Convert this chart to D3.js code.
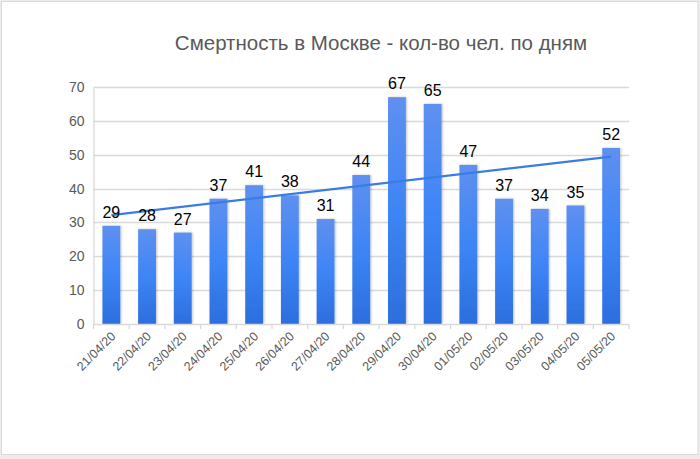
<!DOCTYPE html>
<html><head><meta charset="utf-8">
<script src="https://cdn.jsdelivr.net/npm/d3@7"></script>
<style>
html,body{margin:0;padding:0;background:#ececec;}
svg{display:block;font-family:"Liberation Sans",Arial,sans-serif;}
</style></head>
<body>
<script>
const categories = ["21/04/20","22/04/20","23/04/20","24/04/20","25/04/20","26/04/20","27/04/20","28/04/20","29/04/20","30/04/20","01/05/20","02/05/20","03/05/20","04/05/20","05/05/20"];
const deaths = [29,28,27,37,41,38,31,44,67,65,47,37,34,35,52];
const yTicks = [0,10,20,30,40,50,60,70];
const title = "Смертность в Москве - кол-во чел. по дням";

const W = 700, H = 459;
const m = {left: 93.5, right: 71, top: 87, bottom: 135};
const svg = d3.select("body").append("svg").attr("width", W).attr("height", H);

svg.append("rect").attr("x",1.5).attr("y",1.5).attr("width",696.5).attr("height",453)
  .attr("fill","#fff").attr("stroke","#d9d9d9");

const defs = svg.append("defs");
const g1 = defs.append("linearGradient").attr("id","bg").attr("x1",0).attr("y1",0).attr("x2",0).attr("y2",1);
g1.append("stop").attr("offset","0%").attr("stop-color","#5f90ef");
g1.append("stop").attr("offset","50%").attr("stop-color","#3d85f6");
g1.append("stop").attr("offset","100%").attr("stop-color","#2c6ede");
const f = defs.append("filter").attr("id","sh").attr("x","-30%").attr("y","-10%").attr("width","160%").attr("height","120%");
f.append("feDropShadow").attr("dx",1).attr("dy",0).attr("stdDeviation",1).attr("flood-color","#000").attr("flood-opacity",0.25);

const x = d3.scaleBand().domain(categories).range([m.left, W - m.right]).paddingInner(0.5).paddingOuter(0.25);
const y = d3.scaleLinear().domain([0,70]).range([H - m.bottom, m.top]);
const y0 = y(0);

// gridlines
svg.append("g").selectAll("line").data(yTicks.filter(d=>d>0)).join("line")
  .attr("x1", m.left).attr("x2", W - m.right)
  .attr("y1", d=>Math.round(y(d))+0.5).attr("y2", d=>Math.round(y(d))+0.5)
  .attr("stroke","#d9d9d9").attr("stroke-width",1.3);

// y axis
const ya = svg.append("g").attr("transform",`translate(${m.left},0)`)
  .call(d3.axisLeft(y).tickValues(yTicks).tickSize(0).tickPadding(9));
ya.select(".domain").attr("stroke","#d9d9d9").attr("stroke-width",1.3);
ya.selectAll("text").attr("font-size",14).attr("fill","#595959").attr("font-family","Liberation Sans, Arial, sans-serif");

// bars
svg.append("g").selectAll("rect").data(deaths).join("rect")
  .attr("x",(d,i)=>x(categories[i])).attr("width",x.bandwidth())
  .attr("y",d=>y(d)).attr("height",d=>y0 - y(d))
  .attr("fill","url(#bg)").attr("filter","url(#sh)");

// x axis
const bounds = d3.range(categories.length+1).map(i => m.left + i*(W - m.right - m.left)/categories.length);
const xa = svg.append("g");
xa.append("line").attr("x1",m.left).attr("x2",W-m.right).attr("y1",y0+0.5).attr("y2",y0+0.5)
  .attr("stroke","#d9d9d9").attr("stroke-width",1.3);
xa.selectAll("line.t").data(bounds).join("line").attr("class","t")
  .attr("x1",d=>d).attr("x2",d=>d).attr("y1",y0).attr("y2",y0+5)
  .attr("stroke","#d9d9d9").attr("stroke-width",1.3);
xa.selectAll("text").data(categories).join("text")
  .attr("transform",d=>`translate(${x(d)+x.bandwidth()/2+5},${y0+13}) rotate(-45)`)
  .attr("text-anchor","end").attr("font-size",12.5).attr("fill","#595959").text(d=>d);

// trend line (least squares)
const n = deaths.length;
const xs = d3.range(1,n+1);
const mx = d3.mean(xs), my = d3.mean(deaths);
const slope = d3.sum(xs.map((v,i)=>(v-mx)*(deaths[i]-my))) / d3.sum(xs.map(v=>(v-mx)**2));
const icpt = my - slope*mx;
const cx = i => x(categories[i]) + x.bandwidth()/2;
svg.append("line")
  .attr("x1",cx(0)).attr("y1",y(icpt+slope*1))
  .attr("x2",cx(n-1)).attr("y2",y(icpt+slope*n))
  .attr("stroke","#3a7de2").attr("stroke-width",2.2);

// data labels
svg.append("g").selectAll("text").data(deaths).join("text")
  .attr("x",(d,i)=>cx(i)).attr("y",d=>y(d)-8)
  .attr("text-anchor","middle").attr("font-size",16).attr("fill","#000").text(d=>d);

// title
svg.append("text").attr("x",381).attr("y",50).attr("text-anchor","middle")
  .attr("font-size",20.5).attr("fill","#595959").text(title);
</script>
</body></html>
